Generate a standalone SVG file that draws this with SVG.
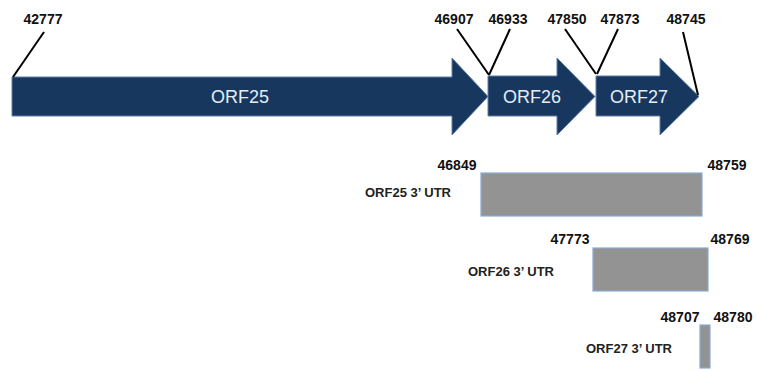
<svg xmlns="http://www.w3.org/2000/svg" width="758" height="370" viewBox="0 0 758 370">
<style>
.arrow{fill:#17375e;stroke:#5d7fa8;stroke-width:1}
.alabel{font-family:"Liberation Sans",Arial,sans-serif;font-size:18px;fill:#e6edf5;text-anchor:middle}
.num{font-family:"Liberation Sans",Arial,sans-serif;font-size:14px;font-weight:bold;fill:#111;text-anchor:middle}
.utr{fill:#939393;stroke:#8aaad2;stroke-width:1.2}
.ulabel{font-family:"Liberation Sans",Arial,sans-serif;font-size:13px;font-weight:bold;fill:#222}
.lead{stroke:#000;stroke-width:2;fill:none}
</style>
<rect width="758" height="370" fill="#fff"/>
<g id="orf25">
<polygon class="arrow" points="12,77 452,77 452,58 488,96.5 452,135 452,116 12,116"/>
<text class="alabel" x="240" y="103">ORF25</text>
</g>
<g id="orf26">
<polygon class="arrow" points="488,76 557,76 557,58 595,96.5 557,135 557,116 488,116"/>
<text class="alabel" x="532" y="103">ORF26</text>
</g>
<g id="orf27">
<polygon class="arrow" points="596,76 660,76 660,58 699,96.5 660,135 660,116 596,116"/>
<text class="alabel" x="639" y="103">ORF27</text>
</g>
<g id="coords">
<text class="num" x="43" y="24">42777</text>
<text class="num" x="454" y="24">46907</text>
<text class="num" x="508" y="24">46933</text>
<text class="num" x="567" y="24">47850</text>
<text class="num" x="620" y="24">47873</text>
<text class="num" x="686" y="24">48745</text>
</g>
<g id="connectors">
<line class="lead" x1="44" y1="32" x2="13" y2="77"/>
<line class="lead" x1="457" y1="29" x2="489" y2="75"/>
<line class="lead" x1="510" y1="29" x2="489" y2="75"/>
<line class="lead" x1="565" y1="29" x2="596" y2="74"/>
<line class="lead" x1="618" y1="29" x2="597" y2="74"/>
<line class="lead" x1="683" y1="32" x2="698" y2="95"/>
</g>
<g id="utr25">
<rect class="utr" x="481" y="173" width="221" height="43"/>
<text class="num" x="457" y="170">46849</text>
<text class="num" x="727" y="170">48759</text>
<text class="ulabel" x="365" y="197">ORF25 3’ UTR</text>
</g>
<g id="utr26">
<rect class="utr" x="593" y="248" width="115" height="43"/>
<text class="num" x="570" y="244">47773</text>
<text class="num" x="730" y="244">48769</text>
<text class="ulabel" x="468" y="276">ORF26 3’ UTR</text>
</g>
<g id="utr27">
<rect class="utr" x="700" y="325" width="10" height="43"/>
<text class="num" x="680" y="322">48707</text>
<text class="num" x="733" y="322">48780</text>
<text class="ulabel" x="586" y="353">ORF27 3’ UTR</text>
</g>
</svg>
